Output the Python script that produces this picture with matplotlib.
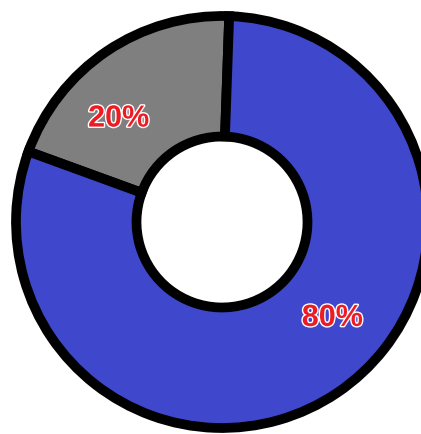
import matplotlib.pyplot as plt
import matplotlib.patheffects as pe
import numpy as np

# data
labels = ["Gray", "Blue"]
values = [20, 80]
colors = ["#7f7f7f", "#3f48cc"]

# label placement (angle in degrees, as seen in the picture)
label_angles = [135, -41]

W, H = 421, 434
cx, cy = 222, 222      # centre in pixels (from top-left)
R = 206                # pixels per unit radius

fig = plt.figure(figsize=(W / 100, H / 100), dpi=100)
ax = fig.add_axes([0, 0, 1, 1])

wedges, _ = ax.pie(values, colors=colors, startangle=88, counterclock=True,
                   radius=1.0,
                   wedgeprops=dict(width=0.585, edgecolor="black", linewidth=7.0))

total = sum(values)
for v, a in zip(values, label_angles):
    r = 0.71
    t = ax.text(r * np.cos(np.radians(a)), r * np.sin(np.radians(a)),
                f"{v / total * 100:.0f}%", ha="center", va="center",
                fontsize=22, fontweight="bold", color="#ed1c24",
                family="Liberation Sans")
    t.set_path_effects([pe.withStroke(linewidth=2, foreground="white")])

ax.set_xlim(-cx / R, (W - cx) / R)
ax.set_ylim(-(H - cy) / R, cy / R)
ax.set_aspect("auto")
ax.axis("off")

fig.savefig("out.png", dpi=100)
